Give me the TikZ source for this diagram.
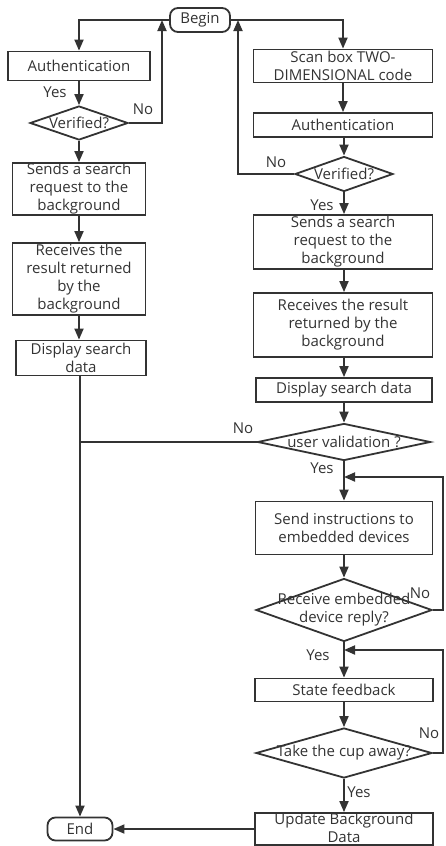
\documentclass[tikz,border=0pt]{standalone}
\usepackage{fontspec}
\setmainfont{Open Sans}
\usetikzlibrary{shapes.geometric,arrows.meta}
\definecolor{ink}{HTML}{333333}
\begin{document}
\begin{tikzpicture}[x=1pt,y=-1pt,
  every node/.style={font=\fontsize{15}{18}\selectfont, text=ink},
  box/.style={draw=ink, line width=1.8pt, rectangle, inner sep=0pt, align=center},
  term/.style={draw=ink, line width=1.8pt, rectangle, rounded corners=8pt, inner sep=0pt, align=center},
  dia/.style={draw=ink, line width=1.8pt, diamond, inner sep=0pt},
  txt/.style={inner sep=0pt, align=center},
  lbl/.style={inner sep=0pt},
  con/.style={draw=ink, line width=1.8pt},
  arr/.style={con, -{Triangle[length=11pt,width=9pt]}}]
\useasboundingbox (0,0) rectangle (445,846);
% terminals
\node[term, minimum width=60pt, minimum height=24pt] (begin) at (200,20) {Begin};
\node[term, minimum width=65pt, minimum height=23pt] (end) at (80,829) {End};
% left column
\node[box, minimum width=142pt, minimum height=29pt] (auth1) at (79,66) {Authentication};
\node[dia, minimum width=98pt, minimum height=34pt] (ver1) at (79,123) {};
\node[txt] (ver1t) at (ver1) {Verified?};
\node[box, minimum width=133pt, minimum height=52pt] (send1) at (79,189) {Sends a search\\request to the\\background};
\node[box, minimum width=133pt, minimum height=72pt] (recv1) at (79,279) {Receives the\\result returned\\by the\\background};
\node[box, minimum width=130pt, minimum height=35pt] (disp1) at (81,358) {Display search\\data};
% right column
\node[box, minimum width=179pt, minimum height=33pt] (scan) at (343,66) {Scan box TWO-\\DIMENSIONAL code};
\node[box, minimum width=179pt, minimum height=24pt] (auth2) at (343,125) {Authentication};
\node[dia, minimum width=98pt, minimum height=35pt] (ver2) at (344,174) {};
\node[txt] (ver2t) at (ver2) {Verified?};
\node[box, minimum width=179pt, minimum height=54pt] (send2) at (343,242) {Sends a search\\request to the\\background};
\node[box, minimum width=179pt, minimum height=64pt] (recv2) at (343,325) {Receives the result\\returned by the\\background};
\node[box, minimum width=176pt, minimum height=24pt] (disp2) at (344,390) {Display search data};
\node[dia, minimum width=173pt, minimum height=37pt] (uval) at (344,442) {};
\node[txt] (uvalt) at (uval) {user validation ?};
\node[box, minimum width=177pt, minimum height=53pt] (instr) at (344,528) {Send instructions to\\embedded devices};
\node[dia, minimum width=176pt, minimum height=63pt] (remb) at (344,610) {};
\node[txt] (rembt) at (remb) {Receive embedded\\device reply?};
\node[box, minimum width=178pt, minimum height=23pt] (state) at (344,690) {State feedback};
\node[dia, minimum width=176pt, minimum height=50pt] (cup) at (344,753) {};
\node[txt] (cupt) at (cup) {Take the cup away?};
\node[box, minimum width=178pt, minimum height=32pt] (update) at (344,829) {};
\node[txt] (updatet) at (344,828) {Update Background\\Data};
% helper coordinates
\coordinate (c1) at (162,20);
\coordinate (c2) at (238,20);
\coordinate (j1) at (80,442);
\coordinate (j2) at (344,477);
\coordinate (r1) at (443,477);
\coordinate (j3) at (344,650);
\coordinate (r2) at (443,650);
% connectors left
\draw[arr] (begin.west) -| (auth1.north);
\draw[arr] (auth1.south) -- (ver1.north);
\draw[arr] (ver1.south) -- (send1.north);
\draw[arr] (ver1.east) -| (c1);
\draw[arr] (send1.south) -- (recv1.north);
\draw[arr] (recv1.south) -- (disp1.north -| recv1.south);
\draw[arr] (disp1.south -| end.north) -- (end.north);
% connectors right
\draw[arr] (begin.east) -| (scan.north);
\draw[arr] (scan.south) -- (auth2.north);
\draw[arr] (auth2.south -| ver2.north) -- (ver2.north);
\draw[arr] (ver2.west) -| (c2);
\draw[arr] (ver2.south) -- (send2.north -| ver2.south);
\draw[arr] (send2.south -| disp2.north) -- (recv2.north -| disp2.north);
\draw[arr] (recv2.south -| disp2.north) -- (disp2.north);
\draw[arr] (disp2.south) -- (uval.north);
\draw[con] (uval.west) -- (j1);
\draw[arr] (uval.south) -- (instr.north);
\draw[arr] (remb.east) -| (r1) -- (j2);
\draw[arr] (instr.south) -- (remb.north);
\draw[arr] (remb.south) -- (state.north);
\draw[arr] (cup.east) -| (r2) -- (j3);
\draw[arr] (state.south) -- (cup.north);
\draw[arr] (cup.south) -- (update.north);
\draw[arr] (update.west) -- (end.east);
% labels
\node[lbl] (y1) at (55,92) {Yes};
\node[lbl] (n1) at (143,109) {No};
\node[lbl] (n2) at (276,162) {No};
\node[lbl] (y2) at (322,205) {Yes};
\node[lbl] (n3) at (243,428) {No};
\node[lbl] (y3) at (322,468) {Yes};
\node[lbl] (n4) at (420,593) {No};
\node[lbl] (y4) at (318,655) {Yes};
\node[lbl] (n5) at (429,733) {No};
\node[lbl] (y5) at (359,792) {Yes};
\end{tikzpicture}
\end{document}
